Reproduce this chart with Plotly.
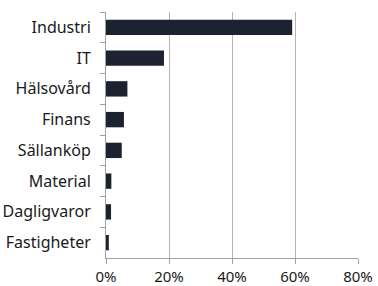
import plotly.graph_objects as go

categories = ["Industri", "IT", "Hälsovård", "Finans", "Sällanköp", "Material", "Dagligvaror", "Fastigheter"]
values = [59.1, 18.4, 6.8, 5.7, 5.0, 1.7, 1.6, 0.9]
x_ticks = [0, 20, 40, 60, 80]
x_tick_labels = ["0%", "20%", "40%", "60%", "80%"]

fig = go.Figure(go.Bar(
    y=categories, x=values, orientation="h",
    marker=dict(color="#1c2230", line=dict(width=0)),
))

fig.update_layout(
    width=378, height=286,
    margin=dict(l=106, r=20, t=12, b=28, pad=0),
    plot_bgcolor="white", paper_bgcolor="white",
    bargap=0.5,
    showlegend=False,
    font=dict(family="Noto Sans", size=16, color="#1a1a1a"),
)
fig.update_xaxes(
    range=[0, 80], tickvals=x_ticks, ticktext=x_tick_labels,
    tickfont=dict(size=15),
    showgrid=True, gridcolor="#b4b4b4", gridwidth=1,
    showline=True, linecolor="#a0a0a0", linewidth=1,
    ticks="outside", ticklen=5, tickcolor="#a0a0a0",
    zeroline=False, fixedrange=True, automargin=False, ticklabelstandoff=0,
)
fig.update_yaxes(
    categoryorder="array", categoryarray=categories, autorange="reversed",
    showline=True, linecolor="#a0a0a0", linewidth=1,
    ticks="outside", ticklen=5, tickcolor="#a0a0a0", tickson="boundaries",
    showgrid=False, fixedrange=True, ticklabelstandoff=11, automargin=False,
)

fig.write_html(
    "out.html",
    config={"displayModeBar": False},
    post_script="document.body.style.margin='0';document.body.style.padding='0';",
)
